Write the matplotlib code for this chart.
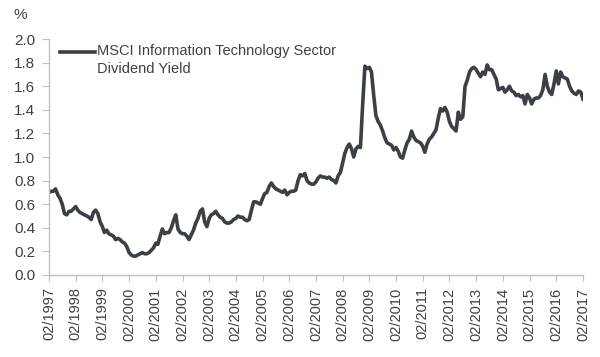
import matplotlib
matplotlib.use("Agg")
import matplotlib.pyplot as plt
import matplotlib.dates as mdates
from matplotlib.lines import Line2D
import pandas as pd

# monthly dividend yield (%), Feb 1997 .. Feb 2017
start_month = "1997-02"
end_month = "2017-02"
dividend_yield = [
    0.70, 0.71, 0.71, 0.73, 0.68, 0.65, 0.60, 0.52, 0.51, 0.54, 0.54, 0.56,
    0.58, 0.55, 0.53, 0.52, 0.51, 0.50, 0.49, 0.47, 0.53, 0.55, 0.52, 0.45,
    0.41, 0.36, 0.38, 0.35, 0.34, 0.33, 0.30, 0.31, 0.30, 0.28, 0.27, 0.24,
    0.19, 0.17, 0.16, 0.16, 0.17, 0.18, 0.19, 0.18, 0.18, 0.19, 0.21, 0.23,
    0.27, 0.26, 0.33, 0.39, 0.35, 0.36, 0.36, 0.40, 0.46, 0.51, 0.39, 0.36,
    0.35, 0.35, 0.33, 0.30, 0.34, 0.38, 0.44, 0.48, 0.54, 0.56, 0.45, 0.41,
    0.48, 0.51, 0.52, 0.54, 0.51, 0.49, 0.48, 0.45, 0.44, 0.44, 0.45, 0.47,
    0.48, 0.50, 0.49, 0.49, 0.47, 0.46, 0.47, 0.55, 0.62, 0.62, 0.61, 0.60,
    0.65, 0.69, 0.70, 0.75, 0.78, 0.75, 0.73, 0.72, 0.71, 0.70, 0.72, 0.68,
    0.70, 0.71, 0.71, 0.72, 0.80, 0.85, 0.84, 0.86, 0.80, 0.78, 0.77, 0.77,
    0.79, 0.82, 0.84, 0.83, 0.83, 0.82, 0.83, 0.81, 0.80, 0.78, 0.84, 0.87,
    0.95, 1.03, 1.08, 1.11, 1.07, 1.00, 1.07, 1.09, 1.08, 1.45, 1.77, 1.75,
    1.76, 1.72, 1.52, 1.35, 1.30, 1.27, 1.22, 1.16, 1.12, 1.11, 1.10, 1.06,
    1.08, 1.05, 1.00, 0.99, 1.06, 1.12, 1.15, 1.22, 1.17, 1.14, 1.13, 1.12,
    1.09, 1.04, 1.11, 1.15, 1.17, 1.20, 1.23, 1.33, 1.41, 1.39, 1.42, 1.38,
    1.30, 1.26, 1.24, 1.22, 1.38, 1.32, 1.34, 1.60, 1.65, 1.72, 1.75, 1.76,
    1.74, 1.71, 1.68, 1.72, 1.70, 1.78, 1.74, 1.74, 1.70, 1.66, 1.57, 1.58,
    1.59, 1.55, 1.57, 1.60, 1.56, 1.55, 1.52, 1.53, 1.51, 1.52, 1.45, 1.53,
    1.50, 1.45, 1.49, 1.50, 1.50, 1.52, 1.57, 1.70, 1.60, 1.55, 1.53, 1.62,
    1.73, 1.62, 1.72, 1.68, 1.67, 1.66, 1.60, 1.56, 1.54, 1.53, 1.56, 1.55,
    1.49,
]
y_ticks = [0.0, 0.2, 0.4, 0.6, 0.8, 1.0, 1.2, 1.4, 1.6, 1.8, 2.0]
series_label = "MSCI Information Technology Sector\nDividend Yield"

dates = pd.date_range(start_month, end_month, freq="MS")
tick_dates = pd.date_range(start_month, end_month, freq="12MS")

line_color = "#3b4046"
text_color = "#404040"
axis_color = "#bfbfbf"
plt.rcParams["font.family"] = ["Liberation Sans", "DejaVu Sans"]

fig = plt.figure(figsize=(6.0, 3.57), dpi=100)
ax = fig.add_axes([0.0817, 0.2297, 0.89, 0.661])

ax.plot(dates, dividend_yield, color=line_color, lw=2.6, solid_joinstyle="round")

ax.set_xlim(dates[0], dates[-1])
ax.set_ylim(0, 2.0)
ax.set_yticks(y_ticks)
ax.set_yticklabels([f"{v:.1f}" for v in y_ticks])
ax.set_xticks(tick_dates)
ax.xaxis.set_major_formatter(mdates.DateFormatter("%m/%Y"))
ax.tick_params(axis="x", rotation=90, labelsize=10.5, colors=text_color,
               length=4, color=axis_color, pad=5)
ax.tick_params(axis="y", labelsize=11, colors=text_color,
               length=5, color=axis_color, pad=5)

for side in ["top", "right"]:
    ax.spines[side].set_visible(False)
for side in ["left", "bottom"]:
    ax.spines[side].set_color(axis_color)
    ax.spines[side].set_linewidth(1.0)

# hand-placed legend: short line next to the first text line
fig.add_artist(Line2D([60 / 600, 95 / 600], [1 - 52 / 357, 1 - 52 / 357],
                      color=line_color, lw=2.6, transform=fig.transFigure))
fig.text(97 / 600, 1 - 44 / 357, series_label, fontsize=10.5, color=text_color,
         va="top", ha="left", linespacing=1.4)

fig.text(20 / 600, 1 - 15 / 357, "%", fontsize=11, color=text_color,
         ha="center", va="center")

fig.savefig("out.png", dpi=100)
